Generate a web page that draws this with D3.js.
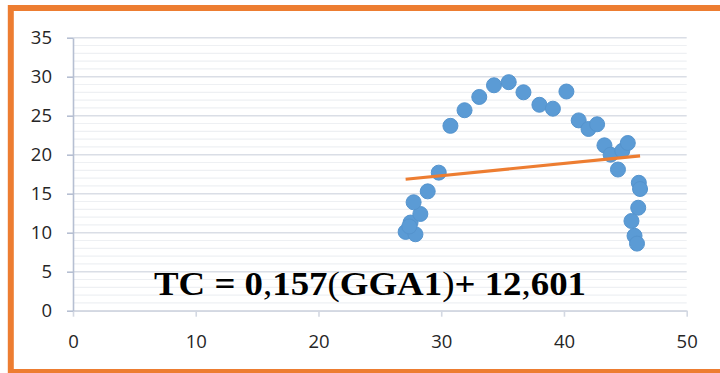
<!DOCTYPE html>
<html>
<head>
<meta charset="utf-8">
<script src="https://cdn.jsdelivr.net/npm/d3@7"></script>
<style>
  html, body { margin: 0; padding: 0; background: #fff; }
  svg { display: block; }
</style>
</head>
<body>
<div id="chart"></div>
<script>
// values
const gga1 = [27.1, 27.9, 27.5, 27.4, 28.3, 27.75, 28.9, 29.8, 30.75, 31.9, 33.1, 34.3, 35.5, 36.7,
  38.0, 39.1, 40.2, 41.2, 42.0, 42.7, 43.3, 43.8, 44.75, 45.2, 44.4, 46.1, 46.2, 46.05, 45.5, 45.75, 45.95];
const tc = [10.1, 9.8, 11.3, 10.8, 12.4, 13.9, 15.3, 17.7, 23.7, 25.7, 27.4, 28.9, 29.3, 28.0,
  26.4, 25.9, 28.1, 24.4, 23.3, 23.9, 21.2, 20.0, 20.5, 21.5, 18.1, 16.4, 15.6, 13.2, 11.5, 9.6, 8.6];
const trendSlope = 0.157;
const trendIntercept = 12.601;
const xTicks = [0, 10, 20, 30, 40, 50];
const yTicks = [0, 5, 10, 15, 20, 25, 30, 35];
const equationParts = [
  { t: 'TC = 0', w: 'bold' }, { t: ',', w: 'normal' }, { t: '157', w: 'bold' },
  { t: '(', w: 'normal' }, { t: 'GGA1', w: 'bold' }, { t: ')', w: 'normal' },
  { t: '+ 12', w: 'bold' }, { t: ',', w: 'normal' }, { t: '601', w: 'bold' }
];

const width = 720, height = 373;
const svg = d3.select('#chart').append('svg')
  .attr('width', width)
  .attr('height', height);

const x = d3.scaleLinear().domain([0, 50]).range([73, 686.7]);
const y = d3.scaleLinear().domain([0, 35]).range([310.7, 37.7]);

// minor + major gridlines
const minor = d3.range(1, 35).filter(v => v % 5 !== 0);
svg.append('g').selectAll('line').data(minor).join('line')
  .attr('x1', x(0)).attr('x2', x(50))
  .attr('y1', d => y(d)).attr('y2', d => y(d))
  .attr('stroke', '#eef0f3').attr('stroke-width', 1.2);
svg.append('g').selectAll('line').data(yTicks).join('line')
  .attr('x1', x(0)).attr('x2', x(50))
  .attr('y1', d => y(d)).attr('y2', d => y(d))
  .attr('stroke', '#dadee6').attr('stroke-width', 1.6);

const tickFont = g => g.selectAll('text')
  .attr('font-family', '"Open Sans", sans-serif')
  .attr('font-size', 18.5)
  .attr('fill', '#262626');

const xAxis = svg.append('g')
  .attr('transform', `translate(0,${y(0)})`)
  .call(d3.axisBottom(x).tickValues(xTicks).tickSize(6).tickPadding(18.5).tickSizeOuter(0))
  .call(tickFont);
xAxis.select('.domain').attr('stroke', '#d3d8e2').attr('stroke-width', 1.6);
xAxis.selectAll('.tick line').attr('stroke', '#d3d8e2').attr('stroke-width', 1.6);

const yAxis = svg.append('g')
  .attr('transform', `translate(${x(0)},0)`)
  .call(d3.axisLeft(y).tickValues(yTicks).tickSize(6).tickPadding(15).tickSizeOuter(0))
  .call(tickFont);
yAxis.select('.domain').attr('stroke', '#b6bfd2').attr('stroke-width', 1.6);
yAxis.selectAll('.tick line').attr('stroke', '#b6bfd2').attr('stroke-width', 1.6);

// scatter points
const pts = gga1.map((v, i) => ({ x: v, y: tc[i] }));
svg.append('g').selectAll('circle').data(pts).join('circle')
  .attr('cx', d => x(d.x))
  .attr('cy', d => y(d.y))
  .attr('r', 7.5)
  .attr('fill', '#5b9bd5')
  .attr('stroke', '#5594ce')
  .attr('stroke-width', 1);

// linear trendline over the data range
const [x0, x1] = d3.extent(gga1);
svg.append('line')
  .attr('x1', x(x0)).attr('y1', y(trendSlope * x0 + trendIntercept))
  .attr('x2', x(x1)).attr('y2', y(trendSlope * x1 + trendIntercept))
  .attr('stroke', '#ed7d31')
  .attr('stroke-width', 3.2);

// equation label
const eq = svg.append('text')
  .attr('x', 154)
  .attr('y', 295)
  .attr('font-family', '"Liberation Serif", serif')
  .attr('font-size', 34)
  .attr('fill', '#000');
eq.selectAll('tspan').data(equationParts).join('tspan')
  .attr('font-weight', d => d.w)
  .text(d => d.t);
const len = eq.node().getComputedTextLength();
if (Math.abs(len - 432) > 4) {
  eq.attr('textLength', 432).attr('lengthAdjust', 'spacingAndGlyphs');
}

// orange frame
svg.append('rect')
  .attr('x', 10.8).attr('y', 8)
  .attr('width', 740).attr('height', 364)
  .attr('fill', 'none')
  .attr('stroke', '#ed7d31')
  .attr('stroke-width', 6);
</script>
</body>
</html>
